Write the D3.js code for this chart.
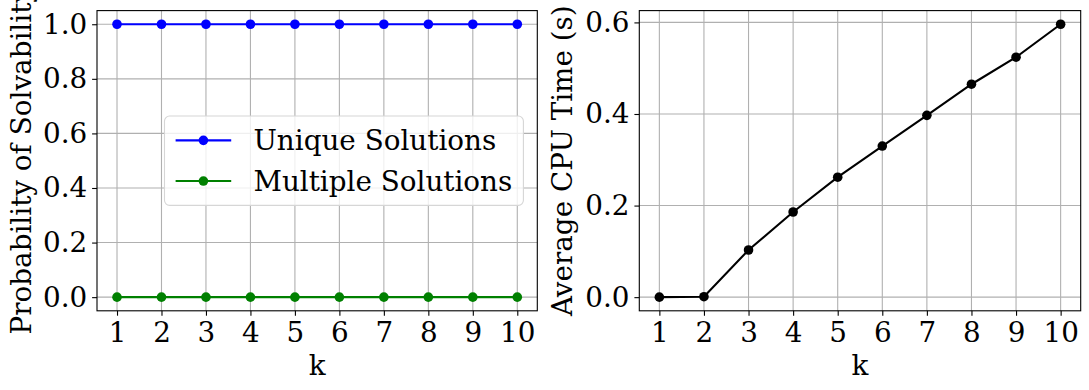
<!DOCTYPE html>
<html>
<head>
<meta charset="utf-8">
<script src="https://cdn.jsdelivr.net/npm/d3@7"></script>
<style>
  body { margin: 0; background: #fff; }
  text { font-family: "DejaVu Serif", serif; }
</style>
</head>
<body>
<div id="chart"></div>
<script>
// data
const kValues = [1, 2, 3, 4, 5, 6, 7, 8, 9, 10];
const uniqueProb = [1, 1, 1, 1, 1, 1, 1, 1, 1, 1];
const multipleProb = [0, 0, 0, 0, 0, 0, 0, 0, 0, 0];
const cpuTime = [0.0, 0.001, 0.103, 0.186, 0.262, 0.330, 0.397, 0.465, 0.524, 0.596];
const leftTicks = [0.0, 0.2, 0.4, 0.6, 0.8, 1.0];
const rightTicks = [0.0, 0.2, 0.4, 0.6];

const W = 1089, H = 390;
const fs = 27.8;
const markerR = 4.8;

const svg = d3.select('#chart').append('svg')
  .attr('width', W)
  .attr('height', H);

// matplotlib style 5% padding around data
function padded(lo, hi) {
  const m = (hi - lo) * 0.05;
  return [lo - m, hi + m];
}

function drawPanel(opts) {
  const { left, right, top, bottom, yDomain, yTicks, ylabel, series } = opts;

  const x = d3.scaleLinear().domain(padded(1, 10)).range([left, right]);
  const y = d3.scaleLinear().domain(yDomain).range([bottom, top]);

  const g = svg.append('g');

  // grid
  g.append('g').selectAll('line').data(kValues).join('line')
    .attr('x1', d => x(d)).attr('x2', d => x(d))
    .attr('y1', top).attr('y2', bottom)
    .attr('stroke', '#b0b0b0').attr('stroke-width', 1.1);
  g.append('g').selectAll('line').data(yTicks).join('line')
    .attr('x1', left).attr('x2', right)
    .attr('y1', d => y(d)).attr('y2', d => y(d))
    .attr('stroke', '#b0b0b0').attr('stroke-width', 1.1);

  // series
  series.forEach(s => {
    const pts = kValues.map((k, i) => [k, s.values[i]]);
    g.append('path')
      .datum(pts)
      .attr('fill', 'none')
      .attr('stroke', s.color)
      .attr('stroke-width', 2.1)
      .attr('d', d3.line().x(d => x(d[0])).y(d => y(d[1])));
    g.append('g').selectAll('circle').data(pts).join('circle')
      .attr('cx', d => x(d[0]))
      .attr('cy', d => y(d[1]))
      .attr('r', markerR)
      .attr('fill', s.color);
  });

  // axes
  const xAxis = g.append('g')
    .attr('transform', `translate(0,${bottom})`)
    .call(d3.axisBottom(x).tickValues(kValues).tickFormat(d3.format('d')).tickSize(4.9).tickPadding(4.9));
  const yAxis = g.append('g')
    .attr('transform', `translate(${left},0)`)
    .call(d3.axisLeft(y).tickValues(yTicks).tickFormat(d3.format('.1f')).tickSize(4.9).tickPadding(4.9));
  [xAxis, yAxis].forEach(a => {
    a.select('.domain').remove();
    a.selectAll('line').attr('stroke', '#000').attr('stroke-width', 1.1);
    a.selectAll('text')
      .attr('fill', '#000')
      .style('font-family', '"DejaVu Serif", serif')
      .style('font-size', fs + 'px');
  });
  xAxis.selectAll('text').attr('dy', '0.78em');

  // spines
  g.append('rect')
    .attr('x', left).attr('y', top)
    .attr('width', right - left).attr('height', bottom - top)
    .attr('fill', 'none').attr('stroke', '#000').attr('stroke-width', 1.1);

  // axis labels
  g.append('text')
    .attr('x', (left + right) / 2)
    .attr('y', 375)
    .attr('text-anchor', 'middle')
    .style('font-size', fs + 'px')
    .text('k');

  g.append('text')
    .attr('transform', `translate(${opts.ylabelX},${(top + bottom) / 2}) rotate(-90)`)
    .attr('text-anchor', 'middle')
    .style('font-size', fs + 'px')
    .text(ylabel);

  return { x, y, g };
}

drawPanel({
  left: 97, right: 537.3, top: 10.6, bottom: 310.8,
  yDomain: padded(0, 1),
  yTicks: leftTicks,
  ylabel: 'Probability of Solvability',
  ylabelX: 31,
  series: [
    { name: 'Unique Solutions', values: uniqueProb, color: '#0000ff' },
    { name: 'Multiple Solutions', values: multipleProb, color: '#008000' }
  ]
});

drawPanel({
  left: 639.3, right: 1080.7, top: 10.6, bottom: 310.8,
  yDomain: padded(0, d3.max(cpuTime)),
  yTicks: rightTicks,
  ylabel: 'Average CPU Time (s)',
  ylabelX: 572,
  series: [
    { name: 'CPU', values: cpuTime, color: '#000000' }
  ]
});

// legend, anchored centre right of the left panel
const legendItems = [
  { name: 'Unique Solutions', color: '#0000ff' },
  { name: 'Multiple Solutions', color: '#008000' }
];
const lg = svg.append('g');
const box = lg.append('rect');
const labels = lg.selectAll('text.lab').data(legendItems).join('text')
  .attr('class', 'lab')
  .style('font-size', fs + 'px')
  .attr('dy', '0.35em')
  .text(d => d.name);
const textW = d3.max(labels.nodes(), n => n.getComputedTextLength());
const pad = 0.4 * fs, handleLen = 2 * fs, handleGap = 0.8 * fs, rowH = 40.7;
const boxW = pad * 2 + handleLen + handleGap + textW;
const boxH = 89.3;
const boxRight = 537.3 - 0.5 * fs;
const boxLeft = boxRight - boxW;
const boxTop = (10.6 + 310.8) / 2 - boxH / 2;
box.attr('x', boxLeft).attr('y', boxTop)
  .attr('width', boxW).attr('height', boxH)
  .attr('rx', 5).attr('ry', 5)
  .attr('fill', 'rgba(255,255,255,0.8)')
  .attr('stroke', '#d6d6d6').attr('stroke-width', 1.1);
const rowY = i => boxTop + boxH / 2 + (i - 0.5) * rowH;
lg.selectAll('line.h').data(legendItems).join('line')
  .attr('x1', boxLeft + pad).attr('x2', boxLeft + pad + handleLen)
  .attr('y1', (d, i) => rowY(i)).attr('y2', (d, i) => rowY(i))
  .attr('stroke', d => d.color).attr('stroke-width', 2.1);
lg.selectAll('circle').data(legendItems).join('circle')
  .attr('cx', boxLeft + pad + handleLen / 2)
  .attr('cy', (d, i) => rowY(i))
  .attr('r', markerR)
  .attr('fill', d => d.color);
labels.attr('x', boxLeft + pad + handleLen + handleGap)
  .attr('y', (d, i) => rowY(i));
labels.raise();
</script>
</body>
</html>
